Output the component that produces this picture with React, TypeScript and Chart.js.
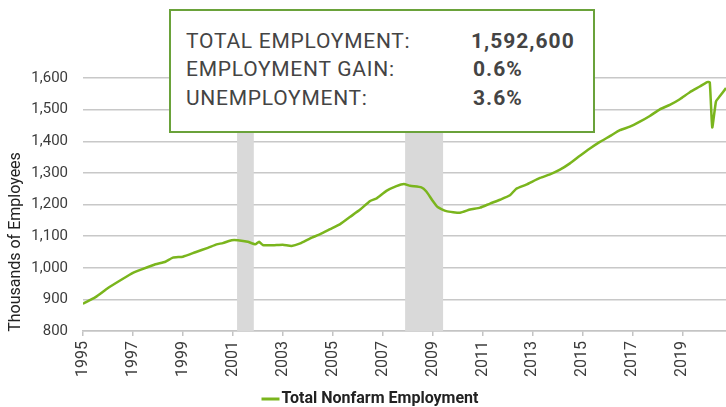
import React, { useEffect, useRef } from "react";
import { Chart, registerables } from "chart.js";

Chart.register(...registerables);

// Decimal-year positions of the series and employment (thousands)
const years = [
  1995.0, 1995.5, 1996.0, 1996.55, 1997.0, 1997.35, 1997.9, 1998.3, 1998.6, 1999.0,
  1999.5, 2000.0, 2000.35, 2000.6, 2000.95, 2001.2, 2001.6, 2001.9, 2002.05, 2002.2,
  2002.6, 2003.0, 2003.35, 2003.7, 2004.1, 2004.5, 2004.9, 2005.3, 2005.7, 2006.1,
  2006.5, 2006.75, 2007.15, 2007.55, 2007.85, 2008.1, 2008.55, 2008.75, 2009.0, 2009.2,
  2009.55, 2010.1, 2010.5, 2010.9, 2011.3, 2011.7, 2012.1, 2012.35, 2012.75, 2013.3,
  2013.7, 2014.1, 2014.5, 2014.9, 2015.3, 2015.7, 2016.1, 2016.5, 2016.9, 2017.3,
  2017.7, 2018.1, 2018.5, 2018.9, 2019.3, 2019.7, 2020.0, 2020.1, 2020.2, 2020.35,
  2020.5, 2020.75,
];
const employment = [
  886, 907, 936, 963, 984, 995, 1011, 1019, 1032, 1035,
  1049, 1063, 1074, 1078, 1087, 1087, 1082, 1074, 1082, 1072,
  1071, 1073, 1069, 1077, 1093, 1106, 1122, 1138, 1161, 1184,
  1211, 1219, 1243, 1258, 1265, 1259, 1254, 1241, 1212, 1192,
  1179, 1174, 1184, 1190, 1203, 1215, 1229, 1250, 1263, 1284,
  1295, 1310, 1330, 1354, 1377, 1398, 1416, 1435, 1446, 1462,
  1480, 1501, 1515, 1533, 1555, 1573, 1587, 1586, 1444, 1526,
  1542, 1568,
];
const tickYears = [1995, 1997, 1999, 2001, 2003, 2005, 2007, 2009, 2011, 2013, 2015, 2017, 2019];
const recessions: [number, number][] = [
  [2001.17, 2001.84],
  [2007.9, 2009.42],
];
const seriesLabel = "Total Nonfarm Employment";
const yTitle = "Thousands of Employees";
const boxRows = [
  ["TOTAL EMPLOYMENT:", "1,592,600"],
  ["EMPLOYMENT GAIN:", "0.6%"],
  ["UNEMPLOYMENT:", "3.6%"],
];

const GREEN = "#7ab51d";
const BOX_GREEN = "#6aa23a";
const TEXT = "#3c3c3c";
const FONT = "Roboto, 'DejaVu Sans', sans-serif";

export default function App() {
  const ref = useRef<HTMLCanvasElement | null>(null);

  useEffect(() => {
    if (!ref.current) return;
    const bandPlugin = {
      id: "bands",
      beforeDatasetsDraw(chart: any) {
        const { ctx, chartArea, scales } = chart;
        ctx.save();
        ctx.fillStyle = "#d9d9d9";
        recessions.forEach(([a, b]) => {
          const x1 = scales.x.getPixelForValue(a);
          const x2 = scales.x.getPixelForValue(b);
          ctx.fillRect(x1, chartArea.top - 40, x2 - x1, chartArea.bottom - chartArea.top + 40);
        });
        ctx.restore();
      },
    };
    const decorPlugin = {
      id: "decor",
      afterDraw(chart: any) {
        const { ctx, chartArea } = chart;
        ctx.save();
        // y title
        ctx.translate(16, 242);
        ctx.rotate(-Math.PI / 2);
        ctx.fillStyle = "#222";
        ctx.font = `16px ${FONT}`;
        ctx.textAlign = "center";
        ctx.textBaseline = "middle";
        ctx.fillText(yTitle, 0, 0);
        ctx.restore();
        // legend
        ctx.save();
        ctx.font = `bold 16px ${FONT}`;
        const tw = ctx.measureText(seriesLabel).width;
        const total = 18 + 2 + tw;
        const x0 = 370 - total / 2;
        const y = 399;
        ctx.strokeStyle = GREEN;
        ctx.lineWidth = 3;
        ctx.beginPath();
        ctx.moveTo(x0, y);
        ctx.lineTo(x0 + 18, y);
        ctx.stroke();
        ctx.fillStyle = "#222";
        ctx.textBaseline = "middle";
        ctx.fillText(seriesLabel, x0 + 20, y);
        ctx.restore();
      },
    };

    const chart = new Chart(ref.current, {
      type: "line",
      data: {
        datasets: [
          {
            label: seriesLabel,
            data: years.map((x, i) => ({ x, y: employment[i] })),
            borderColor: GREEN,
            backgroundColor: GREEN,
            borderWidth: 2.5,
            pointRadius: 0,
            tension: 0.15,
          },
        ],
      },
      options: {
        animation: false,
        responsive: true,
        maintainAspectRatio: false,
        layout: { padding: { top: 78, right: 0, left: 0, bottom: 0 } },
        plugins: { legend: { display: false }, tooltip: { enabled: false } },
        scales: {
          x: {
            type: "linear",
            min: 1995,
            max: 2020.75,
            afterBuildTicks: (s: any) => {
              s.ticks = tickYears.map((v) => ({ value: v }));
            },
            afterFit: (s: any) => {
              s.height = 76;
            },
            ticks: {
              autoSkip: false,
              maxRotation: 90,
              minRotation: 90,
              padding: 5,
              color: TEXT,
              font: { family: FONT, size: 16 },
              callback: (v: any) => String(v),
            },
            grid: { drawOnChartArea: false, drawTicks: true, tickLength: 5, color: "#c4c4c4", lineWidth: 1.5 },
            border: { display: true, color: "#c4c4c4", width: 1.5 },
          },
          y: {
            type: "linear",
            min: 800,
            max: 1600,
            afterFit: (s: any) => {
              s.width = 83;
            },
            ticks: {
              stepSize: 100,
              padding: 15,
              color: TEXT,
              font: { family: FONT, size: 15 },
              callback: (v: any) => Number(v).toLocaleString("en-US"),
            },
            grid: { color: "#c8c8c8", lineWidth: 1.5, drawTicks: false },
            border: { display: false },
          },
        },
      },
      plugins: [bandPlugin, decorPlugin],
    });
    return () => chart.destroy();
  }, []);

  return (
    <div style={{ position: "absolute", left: 0, top: 0, width: 726, height: 407, background: "#fff" }}>
      <div style={{ position: "absolute", left: 0, top: 0, width: 726, height: 407 }}>
        <canvas ref={ref} />
      </div>
      <div
        style={{
          position: "absolute",
          left: 169,
          top: 9,
          width: 426,
          height: 124,
          boxSizing: "border-box",
          border: `2.5px solid ${BOX_GREEN}`,
          background: "#fff",
          fontFamily: FONT,
          fontSize: 21,
          color: "#444",
        }}
      >
        {boxRows.map(([label, value], i) => (
          <React.Fragment key={label}>
            <div
              style={{
                position: "absolute",
                left: 15,
                top: 15.5 + i * 28.85,
                lineHeight: "28px",
                whiteSpace: "nowrap",
                letterSpacing: "0.75px",
              }}
            >
              {label}
            </div>
            <div
              style={{
                position: "absolute",
                left: i === 0 ? 300 : 302,
                top: 15.5 + i * 28.85,
                lineHeight: "28px",
                fontWeight: 700,
                whiteSpace: "nowrap",
                letterSpacing: "1px",
              }}
            >
              {value}
            </div>
          </React.Fragment>
        ))}
      </div>
    </div>
  );
}
